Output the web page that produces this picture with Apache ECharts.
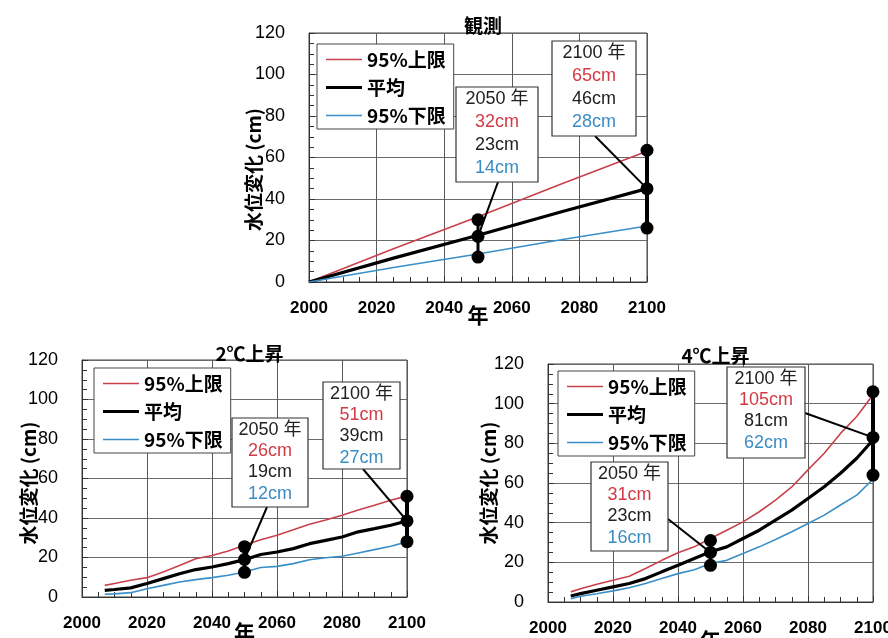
<!DOCTYPE html>
<html><head><meta charset="utf-8">
<script src="https://cdn.jsdelivr.net/npm/echarts@6/dist/echarts.min.js"></script>
<style>html,body{margin:0;padding:0;background:#fff}#c{width:888px;height:638px}</style>
</head><body><div id="c"></div>
<script>
// ---------- data ----------
const titles = ['観測', '2℃上昇', '4℃上昇'];
const seriesNames = ['95%上限', '平均', '95%下限'];
const xTickStep = 20, xMin = 2000, xMax = 2100;
const yTickStep = 20, yMin = 0, yMax = 120;
const yAxisName = '水位変化 (cm)';
const xAxisName = '年';

// Observed (観測)
const obsYears = [2000, 2025, 2050, 2075, 2100];
const obsUpper = [0, 16, 31.5, 47.5, 63];
const obsMean  = [0, 11.5, 22.5, 34, 45];
const obsLower = [0, 7, 13.5, 20.5, 27];
const obsDots2050 = [30, 22, 12];
const obsDots2100 = [63.5, 45, 26];
const obsLabel2050 = ['2050 年', '32cm', '23cm', '14cm'];
const obsLabel2100 = ['2100 年', '65cm', '46cm', '28cm'];

// Scenario years
const scenYears = [2007, 2010, 2015, 2020, 2025, 2030, 2035, 2040, 2045, 2050, 2055, 2060, 2065, 2070, 2075, 2080, 2085, 2090, 2095, 2100];

// 2℃上昇
const c2Upper = [5.9, 6.8, 8.5, 9.8, 12.7, 16, 19.4, 21, 23.3, 26.2, 29, 31.3, 34, 36.8, 39, 41.4, 44, 46.5, 49, 51.2];
const c2Mean  = [3.4, 3.8, 4.6, 6.8, 9.3, 11.8, 13.9, 15.2, 16.9, 18.9, 21.5, 22.8, 24.5, 27, 28.7, 30.4, 33, 34.6, 36.3, 38.5];
const c2Lower = [1.4, 1.6, 2.2, 4.2, 5.9, 7.6, 8.8, 9.8, 11, 12.7, 14.9, 15.5, 16.9, 18.9, 19.9, 20.6, 22.3, 24, 25.7, 27.9];
const c2Dots2050 = [25.5, 19, 12.5];
const c2Dots2100 = [51, 38.5, 28];
const c2Label2050 = ['2050 年', '26cm', '19cm', '12cm'];
const c2Label2100 = ['2100 年', '51cm', '39cm', '27cm'];

// 4℃上昇
const c4Upper = [5.1, 6.7, 8.9, 11, 13, 16.9, 21, 24.8, 27.8, 32, 36.2, 40.4, 45.5, 51.4, 58, 66.6, 75, 85, 93.5, 104.5];
const c4Mean  = [3, 4.2, 5.9, 7.6, 9.3, 11.8, 15.2, 18.5, 21.9, 25.3, 27.8, 32, 36.2, 41.3, 46.3, 52.2, 58.1, 64.9, 72.5, 81.7];
const c4Lower = [1.7, 2.9, 4.2, 5.6, 7.2, 9.3, 11.8, 14.3, 16.3, 19.4, 21, 24.4, 27.8, 31.5, 35.4, 39.6, 43.8, 48.9, 53.9, 61.9];
const c4Dots2050 = [31, 25, 18.5];
const c4Dots2100 = [106, 83, 64];
const c4Label2050 = ['2050 年', '31cm', '23cm', '16cm'];
const c4Label2100 = ['2100 年', '105cm', '81cm', '62cm'];

// ---------- layout / style ----------
const RED = '#c8414b', BLACK = '#000', BLUE = '#3a8fc8';
const TXT_RED = '#d23a44', TXT_BLUE = '#3a8cc4', TXT_DARK = '#222';
const CJK = '"Noto Sans CJK JP", sans-serif';
const NUM = '"Liberation Sans", "Noto Sans CJK JP", sans-serif';

const panels = [
  { title: titles[0], grid: {left: 309, top: 33, width: 338, height: 249}, titleTop: 11,
    years: obsYears, lines: [obsUpper, obsMean, obsLower], d2050: obsDots2050, d2100: obsDots2100,
    l2050: obsLabel2050, l2100: obsLabel2100, yNameGap: 46, yNamePad: [0, 24, 0, 0], xNameGap: 23,
    legend: {left: 317, top: 44},
    box2050: {x: 456, y: 87, w: 82, h: 95, lh: 23, from: [498, 182]},
    box2100: {x: 552, y: 41, w: 84, h: 95, lh: 23, from: [595, 136]} },
  { title: titles[1], grid: {left: 82, top: 360, width: 325, height: 237}, titleTop: 339,
    years: scenYears, lines: [c2Upper, c2Mean, c2Lower], d2050: c2Dots2050, d2100: c2Dots2100,
    l2050: c2Label2050, l2100: c2Label2100, yNameGap: 44, yNamePad: [0, 9, 0, 0], xNameGap: 25,
    legend: {left: 94, top: 368},
    box2050: {x: 232, y: 418, w: 76, h: 89, lh: 21.3, from: [267, 507]},
    box2100: {x: 323, y: 382, w: 77, h: 87, lh: 21.3, from: [363, 469]} },
  { title: titles[2], grid: {left: 548, top: 364, width: 325, height: 238}, titleTop: 341,
    years: scenYears, lines: [c4Upper, c4Mean, c4Lower], d2050: c4Dots2050, d2100: c4Dots2100,
    l2050: c4Label2050, l2100: c4Label2100, yNameGap: 50, yNamePad: [0, 0, 0, 0], xNameGap: 28,
    legend: {left: 558, top: 371},
    box2050: {x: 591, y: 462, w: 77, h: 89, lh: 21.3, from: [668, 519]},
    box2100: {x: 727, y: 367, w: 78, h: 91, lh: 21.3, from: [805, 413]} }
];

const lineColors = [RED, BLACK, BLUE];
const lineWidths = [1.6, 3.2, 1.6];
// legend icons: thin bars whose aspect ratio gives the line thickness (36 px wide)
const legendIcons = ['path://M0,0H22.5V1H0Z', 'path://M0,0H11.25V1H0Z', 'path://M0,0H22.5V1H0Z'];

const option = {
  animation: false,
  backgroundColor: '#fff',
  title: [], grid: [], xAxis: [], yAxis: [], legend: [], series: [], graphic: []
};

function zip(xs, ys) { return xs.map((x, i) => [x, ys[i]]); }

function boxGraphic(b, lines) {
  const mk = (c) => ({ fill: c, color: c, fontSize: 18, lineHeight: b.lh, fontFamily: NUM });
  return {
    type: 'group', x: b.x, y: b.y, z: 100,
    children: [
      { type: 'rect', z: 100, shape: {x: 0, y: 0, width: b.w, height: b.h},
        style: {fill: '#fff', stroke: '#333', lineWidth: 1.2} },
      { type: 'text', z: 101, x: b.w / 2, y: 1,
        style: {
          text: `{k|${lines[0]}}\n{r|${lines[1]}}\n{m|${lines[2]}}\n{b|${lines[3]}}`,
          align: 'center', verticalAlign: 'top', fill: TXT_DARK,
          font: '18px ' + NUM,
          rich: { k: mk(TXT_DARK), r: mk(TXT_RED), m: mk(TXT_DARK), b: mk(TXT_BLUE) }
        } }
    ]
  };
}

panels.forEach((p, i) => {
  option.title.push({
    text: p.title, left: p.grid.left + p.grid.width / 2, top: p.titleTop, textAlign: 'center',
    textStyle: {fontSize: 19, fontWeight: 'bold', fontFamily: CJK, color: '#000'}
  });
  option.grid.push(Object.assign({show: true, borderColor: '#444', borderWidth: 1, backgroundColor: 'transparent',
    containLabel: false, outerBoundsMode: 'none'}, p.grid));
  option.xAxis.push({
    type: 'value', gridIndex: i, min: xMin, max: xMax, interval: xTickStep,
    name: xAxisName, nameLocation: 'middle', nameGap: p.xNameGap, nameMoveOverlap: false,
    nameTextStyle: {fontSize: 21, fontWeight: 'bold', fontFamily: CJK, color: '#000'},
    axisLine: {show: true, onZero: false, lineStyle: {color: '#333', width: 1}},
    axisTick: {show: true, inside: true, length: 6, lineStyle: {color: '#333'}},
    minorTick: {show: true, splitNumber: 4, length: 5, lineStyle: {color: '#333'}},
    splitLine: {show: true, lineStyle: {color: '#5a5a5a', width: 1}},
    axisLabel: {margin: 18, fontSize: 17, fontWeight: 'bold', fontFamily: NUM, color: '#000',
                hideOverlap: false, formatter: v => String(v)}
  });
  option.yAxis.push({
    type: 'value', gridIndex: i, min: yMin, max: yMax, interval: yTickStep,
    name: yAxisName, nameLocation: 'middle', nameGap: p.yNameGap, nameRotate: 90, nameMoveOverlap: false,
    nameTextStyle: {fontSize: 19, fontWeight: 'bold', fontFamily: CJK, color: '#000', padding: p.yNamePad},
    axisLine: {show: true, lineStyle: {color: '#333', width: 1}},
    axisTick: {show: true, inside: true, length: 6, lineStyle: {color: '#333'}},
    minorTick: {show: true, splitNumber: 4, length: 5, lineStyle: {color: '#333'}},
    splitLine: {show: true, lineStyle: {color: '#6a6a6a', width: 1.2}},
    axisLabel: {margin: 24, fontSize: 18, fontFamily: NUM, color: '#000'}
  });
  option.legend.push({
    show: true, orient: 'vertical', left: p.legend.left, top: p.legend.top,
    data: seriesNames.map((n, k) => ({name: n, icon: legendIcons[k], itemStyle: {color: lineColors[k]}})),
    backgroundColor: '#fff', borderColor: '#444', borderWidth: 1,
    padding: [6, 8, 4, 9], itemGap: 9, itemWidth: 36, itemHeight: 14, symbolKeepAspect: true,
    selectedMode: false, z: 50,
    textStyle: {fontSize: 19, fontWeight: 'bold', fontFamily: CJK, color: '#000'}
  });
  seriesNames.forEach((name, k) => {
    option.series.push({
      name: name, type: 'line', xAxisIndex: i, yAxisIndex: i,
      data: zip(p.years, p.lines[k]), symbol: 'none', smooth: false, z: 3,
      lineStyle: {color: lineColors[k], width: lineWidths[k]}, itemStyle: {color: lineColors[k]}
    });
  });
  [[2050, p.d2050, p.box2050, 3], [2100, p.d2100, p.box2100, 4]].forEach(([yr, dots, box, w]) => {
    option.series.push({
      name: 'marker-' + i + '-' + yr, type: 'line', xAxisIndex: i, yAxisIndex: i, z: 6,
      data: dots.map(v => [yr, v]), symbol: 'circle', symbolSize: 13, showSymbol: true,
      lineStyle: {color: '#000', width: w}, itemStyle: {color: '#000'},
      markLine: {
        silent: true, symbol: ['none', 'none'], label: {show: false},
        lineStyle: {color: '#000', width: 2, type: 'solid'},
        data: [[{x: box.from[0], y: box.from[1]}, {coord: [yr, dots[1]]}]]
      }
    });
  });
  option.graphic.push(boxGraphic(p.box2050, p.l2050));
  option.graphic.push(boxGraphic(p.box2100, p.l2100));
});

const chart = echarts.init(document.getElementById('c'), null, {renderer: 'canvas'});
chart.setOption(option);
</script></body></html>
